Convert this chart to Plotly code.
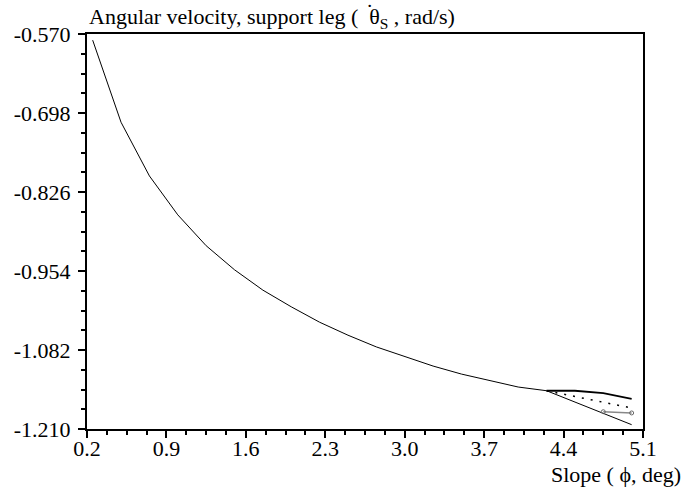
import plotly.graph_objects as go

# Main (period-1) curve: slope in deg vs angular velocity (rad/s)
slope_main = [0.25, 0.5, 0.75, 1.0, 1.25, 1.5, 1.75, 2.0, 2.25, 2.5, 2.75,
              3.0, 3.25, 3.5, 3.75, 4.0, 4.25]
omega_main = [-0.580, -0.713, -0.800, -0.863, -0.913, -0.952, -0.985, -1.012,
              -1.037, -1.058, -1.077, -1.093, -1.108, -1.121, -1.132, -1.142, -1.148]

# Period-2 branches after bifurcation
slope_branch = [4.25, 4.5, 4.75, 5.0]
omega_upper = [-1.148, -1.148, -1.152, -1.161]
omega_lower = [-1.148, -1.166, -1.184, -1.203]

# Unstable continuation (dotted)
slope_dotted = [4.25, 5.0]
omega_dotted = [-1.148, -1.176]

# Grey branch (period-4)
slope_grey = [4.75, 5.0]
omega_grey = [-1.182, -1.184]

x_ticks = [0.2, 0.9, 1.6, 2.3, 3.0, 3.7, 4.4, 5.1]
y_ticks = [-1.210, -1.082, -0.954, -0.826, -0.698, -0.570]

FONT = "Liberation Serif, Times New Roman, serif"
FS = 22

fig = go.Figure()
fig.add_trace(go.Scatter(x=slope_main, y=omega_main, mode="lines",
                         line=dict(color="black", width=1), showlegend=False))
fig.add_trace(go.Scatter(x=slope_branch, y=omega_upper, mode="lines",
                         line=dict(color="black", width=1.8), showlegend=False))
fig.add_trace(go.Scatter(x=slope_branch, y=omega_lower, mode="lines",
                         line=dict(color="black", width=1), showlegend=False))
fig.add_trace(go.Scatter(x=slope_dotted, y=omega_dotted, mode="lines",
                         line=dict(color="black", width=1.5, dash="2px,7px"), showlegend=False))
fig.add_trace(go.Scatter(x=slope_grey, y=omega_grey, mode="lines+markers",
                         line=dict(color="#888888", width=1.5),
                         marker=dict(symbol="circle-open", size=4, color="#666666"),
                         showlegend=False))

fig.update_layout(
    template="none",
    width=685, height=495,
    margin=dict(l=87, r=42, t=34, b=66, autoexpand=False),
    paper_bgcolor="white", plot_bgcolor="white",
    font=dict(family=FONT, size=FS, color="black"),
    xaxis=dict(range=[0.2, 5.1], tickvals=x_ticks, ticktext=[f"{v:.1f}" for v in x_ticks],
               automargin=False,
               showgrid=False, zeroline=False, showline=True, linecolor="black", linewidth=2,
               mirror=True, ticks="outside", ticklen=7, tickwidth=1.5, tickcolor="black",
               minor=dict(tick0=0.2, dtick=0.175, ticks="outside", ticklen=4, tickwidth=1.5,
                          tickcolor="black", showgrid=False),
               ticklabelstandoff=-8,
               tickfont=dict(family=FONT, size=FS, color="black")),
    yaxis=dict(range=[-1.210, -0.570], tickvals=y_ticks, ticktext=[f"{v:.3f}" for v in y_ticks],
               automargin=False,
               showgrid=False, zeroline=False, showline=True, linecolor="black", linewidth=2,
               mirror=True, ticks="outside", ticklen=7, tickwidth=1.5, tickcolor="black",
               minor=dict(tick0=-1.210, dtick=0.032, ticks="outside", ticklen=4, tickwidth=1.5,
                          tickcolor="black", showgrid=False),
               ticklabelstandoff=3,
               tickfont=dict(family=FONT, size=FS, color="black")),
    annotations=[
        dict(text="Angular velocity, support leg (  θ<sub>S</sub> , rad/s)",
             xref="paper", yref="paper", x=0, y=1, xanchor="left", yanchor="bottom",
             showarrow=False, font=dict(family=FONT, size=FS, color="black")),
        dict(text="\u02d9", xref="paper", yref="paper", x=0.508, y=1.058,
             xanchor="center", yanchor="middle", showarrow=False,
             font=dict(family=FONT, size=FS, color="black")),
        dict(text="Slope ( ϕ, deg)", xref="paper", yref="paper", x=1, y=-0.116,
             xanchor="right", yanchor="middle", xshift=40, showarrow=False,
             font=dict(family=FONT, size=FS, color="black")),
    ],
)

fig.write_html("out.html", post_script="document.body.style.margin='0';",
               config={"displayModeBar": False})
